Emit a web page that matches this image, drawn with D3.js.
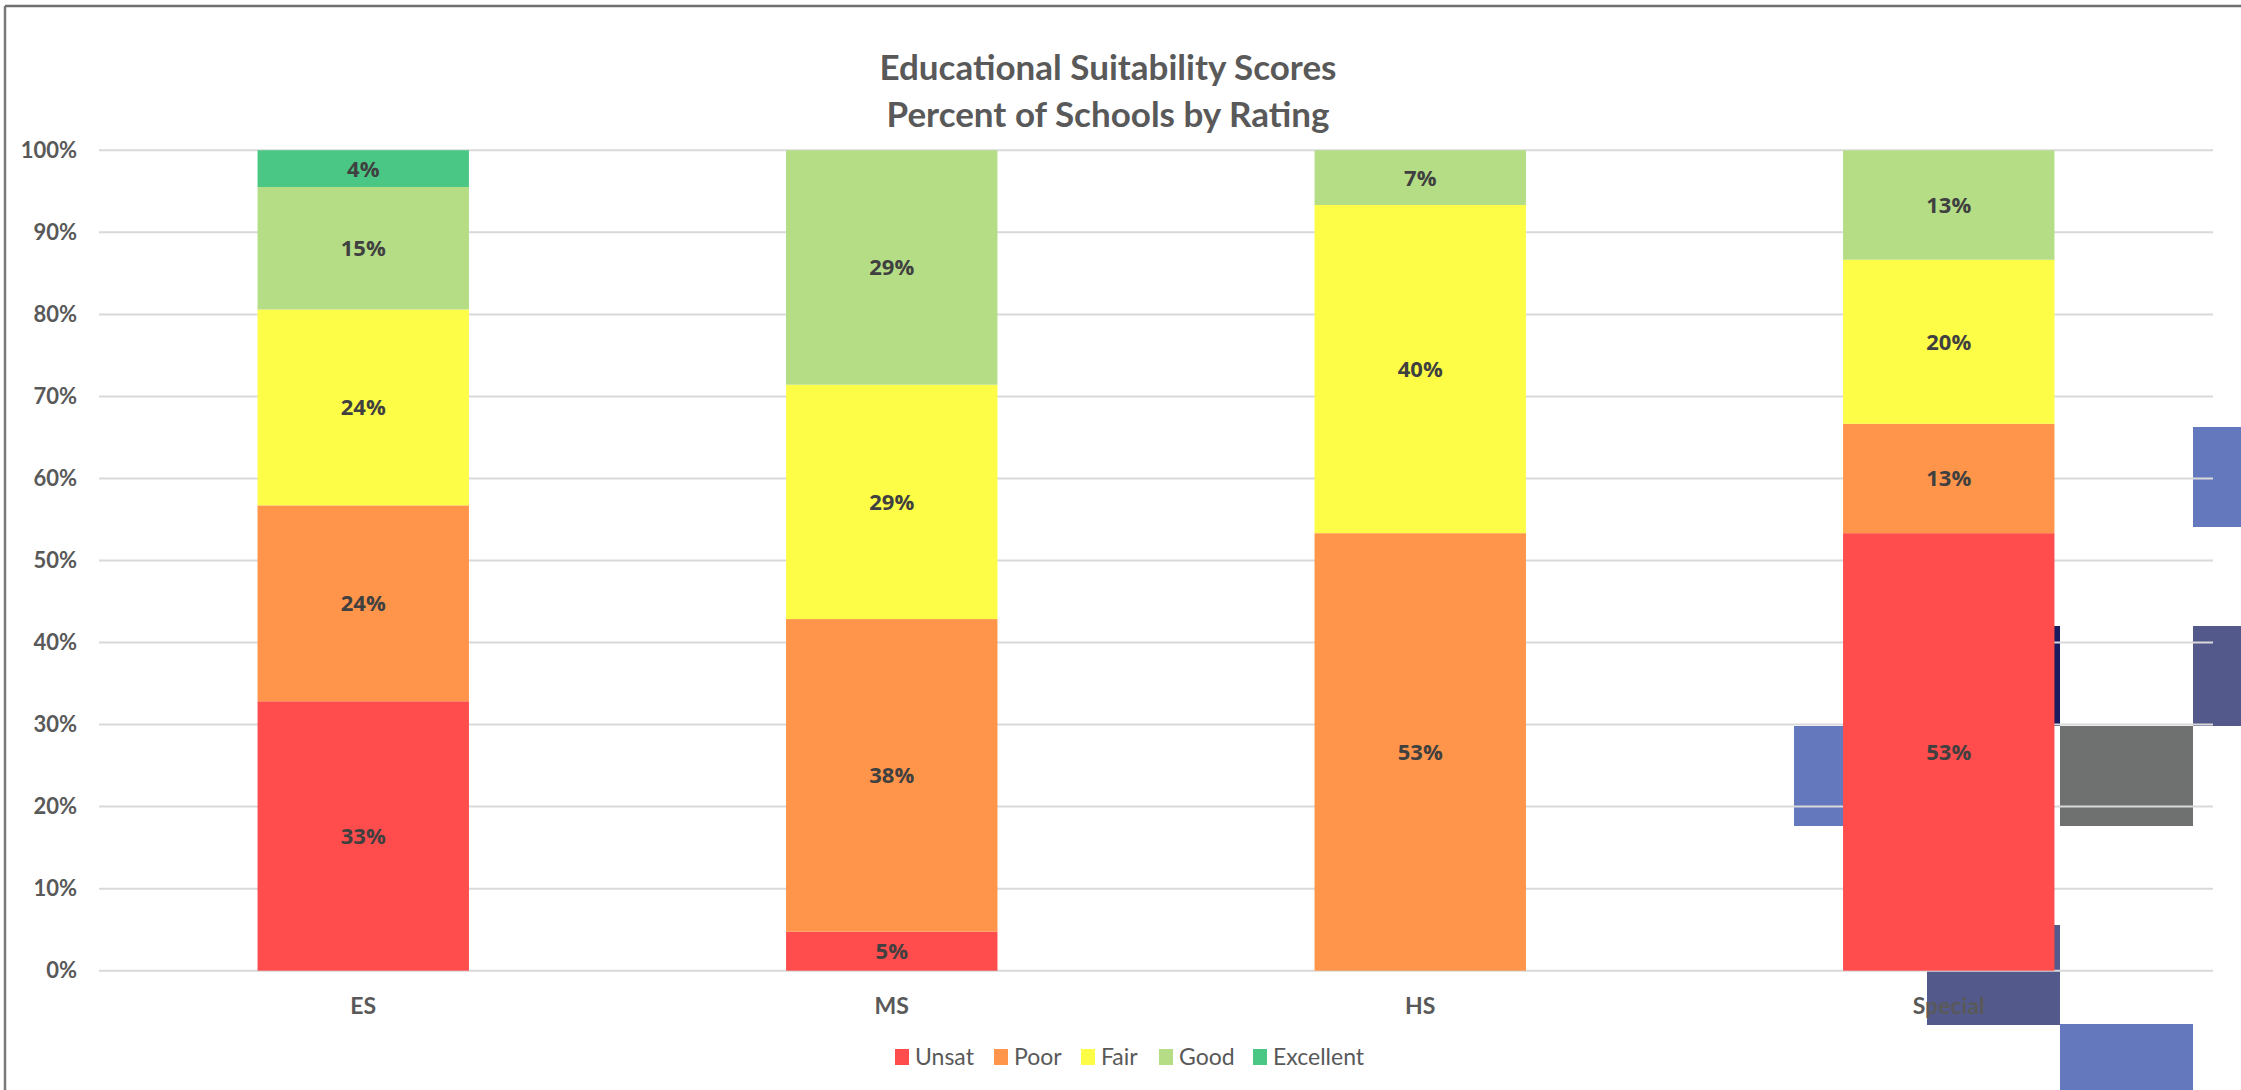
<!DOCTYPE html>
<html>
<head>
<meta charset="utf-8">
<script src="https://cdn.jsdelivr.net/npm/d3@7"></script>
<style>
  body { margin: 0; background: #fff; }
  svg { display: block; }
</style>
</head>
<body>
<svg width="2241" height="1090"></svg>
<script>
// Chart data (percent of schools per rating)
var categories = ["ES", "MS", "HS", "Special"];
var ratings = ["Unsat", "Poor", "Fair", "Good", "Excellent"];
var unsat = [32.84, 4.76, 0, 53.33];
var poor = [23.88, 38.10, 53.33, 13.33];
var fair = [23.88, 28.57, 40.00, 20.00];
var good = [14.93, 28.57, 6.67, 13.33];
var excellent = [4.48, 0, 0, 0];
var yTicks = [0, 10, 20, 30, 40, 50, 60, 70, 80, 90, 100];

var colors = {
  "Unsat": "#ff4d4d",
  "Poor": "#ff944b",
  "Fair": "#fdfd48",
  "Good": "#b4dd86",
  "Excellent": "#4bc785"
};

var width = 2241;
var height = 1090;
var svg = d3.select("svg");

// Build rows for the stack
var seriesValues = [unsat, poor, fair, good, excellent];
var rows = categories.map(function(c, i) {
  var row = {category: c};
  ratings.forEach(function(r, j) { row[r] = seriesValues[j][i]; });
  return row;
});
var stacked = d3.stack().keys(ratings)(rows);

// Scales
var x = d3.scaleBand()
  .domain(categories)
  .range([99, 2213])
  .paddingInner(0.6)
  .paddingOuter(0.3);

var y = d3.scaleLinear()
  .domain([0, 100])
  .range([970.7, 150.3]);

// Outer chart border (top and left edges visible)
svg.append("line")
  .attr("x1", 5).attr("x2", width).attr("y1", 6).attr("y2", 6)
  .attr("stroke", "#6f6f6f").attr("stroke-width", 2.5);
svg.append("line")
  .attr("x1", 5).attr("x2", 5).attr("y1", 6).attr("y2", height)
  .attr("stroke", "#7a7a7a").attr("stroke-width", 2.5);

// Stray screen tiles seen behind the plot in the screenshot
var tiles = [
  {x: 2193, y: 427, fill: "#6479bd"},
  {x: 2193, y: 626, fill: "#54598b"},
  {x: 1927, y: 626, fill: "#1b1b60"},
  {x: 1794, y: 726, fill: "#6479bd"},
  {x: 2060, y: 726, fill: "#6f7070"},
  {x: 1927, y: 925, fill: "#54598b"},
  {x: 2060, y: 1024, fill: "#6479bd"}
];
svg.append("g").selectAll("rect")
  .data(tiles)
  .join("rect")
  .attr("x", function(d) { return d.x; })
  .attr("y", function(d) { return d.y; })
  .attr("width", 133)
  .attr("height", 100)
  .attr("fill", function(d) { return d.fill; });

// Gridlines
svg.append("g")
  .selectAll("line")
  .data(yTicks)
  .join("line")
  .attr("x1", 99)
  .attr("x2", 2213)
  .attr("y1", function(d) { return y(d); })
  .attr("y2", function(d) { return y(d); })
  .attr("stroke", "#d9d9d9")
  .attr("stroke-width", 2);

// Y axis labels
var yAxis = d3.axisLeft(y)
  .tickValues(yTicks)
  .tickFormat(function(d) { return d + "%"; })
  .tickSize(0)
  .tickPadding(0);
var yg = svg.append("g")
  .attr("transform", "translate(77,0)")
  .call(yAxis);
yg.select(".domain").remove();
yg.selectAll("text")
  .attr("fill", "#595959")
  .style("font-family", "Lato, sans-serif")
  .style("font-weight", "700")
  .style("font-size", "22px");

// Stacked bars
var layers = svg.append("g")
  .selectAll("g")
  .data(stacked)
  .join("g")
  .attr("fill", function(d) { return colors[d.key]; });

layers.selectAll("rect")
  .data(function(d) { return d; })
  .join("rect")
  .attr("x", function(d) { return x(d.data.category); })
  .attr("width", x.bandwidth())
  .attr("y", function(d) { return y(d[1]); })
  .attr("height", function(d) { return y(d[0]) - y(d[1]); });

// Data labels
layers.selectAll("text")
  .data(function(d) { return d.filter(function(p) { return p[1] - p[0] > 0; }); })
  .join("text")
  .attr("x", function(d) { return x(d.data.category) + x.bandwidth() / 2; })
  .attr("y", function(d) { return (y(d[0]) + y(d[1])) / 2; })
  .attr("dy", "0.36em")
  .attr("text-anchor", "middle")
  .attr("fill", "#404040")
  .style("font-family", "'Open Sans', sans-serif")
  .style("font-weight", "700")
  .style("font-size", "22px")
  .text(function(d) { return Math.round(d[1] - d[0]) + "%"; });

// X axis labels
var xAxis = d3.axisBottom(x).tickSize(0).tickPadding(0);
var xg = svg.append("g")
  .attr("transform", "translate(0,1006)")
  .call(xAxis);
xg.select(".domain").remove();
xg.selectAll("text")
  .attr("dy", "0.36em")
  .attr("fill", "#595959")
  .style("font-family", "Lato, sans-serif")
  .style("font-weight", "700")
  .style("font-size", "23px");

// Title
var title = svg.append("text")
  .attr("x", 1108)
  .attr("text-anchor", "middle")
  .attr("fill", "#595959")
  .style("font-family", "Lato, sans-serif")
  .style("font-weight", "700")
  .style("font-size", "35px");
title.append("tspan").attr("x", 1108).attr("y", 80).text("Educational Suitability Scores");
title.append("tspan").attr("x", 1108).attr("y", 127).text("Percent of Schools by Rating");

// Legend
var legendX = [895, 994, 1081, 1159, 1253];
var legend = svg.append("g")
  .selectAll("g")
  .data(ratings)
  .join("g")
  .attr("transform", function(d, i) { return "translate(" + legendX[i] + ",1049)"; });
legend.append("rect")
  .attr("width", 14)
  .attr("height", 16)
  .attr("fill", function(d) { return colors[d]; });
legend.append("text")
  .attr("x", 20)
  .attr("y", 8)
  .attr("dy", "0.36em")
  .attr("fill", "#595959")
  .style("font-family", "Lato, sans-serif")
  .style("font-size", "23px")
  .text(function(d) { return d; });
</script>
</body>
</html>
